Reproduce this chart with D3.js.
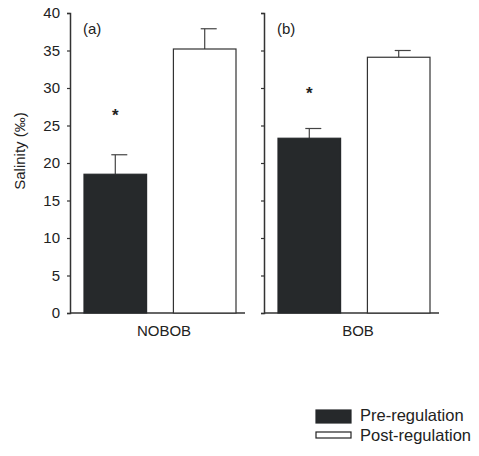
<!DOCTYPE html>
<html>
<head>
<meta charset="utf-8">
<script src="https://cdn.jsdelivr.net/npm/d3@7"></script>
<style>
body { margin: 0; background: #fff; }
text { font-family: "Liberation Sans", Arial, sans-serif; fill: #222; }
</style>
</head>
<body>
<script>
var width = 479,
    height = 456;

var categories = ["NOBOB", "BOB"];
var panelLabels = ["(a)", "(b)"];
var series = ["Pre-regulation", "Post-regulation"];
var means = [[18.5, 35.2], [23.3, 34.1]];
var errors = [[2.6, 2.7], [1.3, 0.9]];
var stars = [26.8, 29.7];   // asterisk positions over pre-regulation bars
var yTicks = [0, 5, 10, 15, 20, 25, 30, 35, 40];

var colors = ["#26292b", "#ffffff"];

var svg = d3.select("body").append("svg")
    .attr("width", width)
    .attr("height", height);

var y = d3.scaleLinear()
    .domain([0, 40])
    .range([313, 13]);

var panelX = d3.scaleOrdinal()
    .domain(categories)
    .range([70, 264]);
var panelW = 175;

var xs = d3.scaleBand()
    .domain(series)
    .range([14, 166])
    .paddingInner(0.3)
    .paddingOuter(0);

categories.forEach(function(cat, p) {
    var g = svg.append("g")
        .attr("transform", "translate(" + panelX(cat) + ",0)");

    // y axis
    var yAxis = d3.axisLeft(y).tickValues(yTicks).tickSize(3).tickPadding(7);
    if (p > 0) yAxis.tickFormat("");
    var ya = g.append("g").call(yAxis);
    ya.select(".domain").attr("stroke", "#333").attr("stroke-width", 1.5);
    ya.selectAll(".tick line").attr("stroke", "#333").attr("stroke-width", 1.2);
    ya.selectAll(".tick text")
        .style("font-size", "15px")
        .style("font-family", "'Liberation Sans', Arial, sans-serif")
        .attr("fill", "#222");

    // x axis line
    g.append("line")
        .attr("x1", 0).attr("x2", panelW)
        .attr("y1", y(0)).attr("y2", y(0))
        .attr("stroke", "#333").attr("stroke-width", 1.5);

    g.append("text")
        .attr("x", 94)
        .attr("y", y(0) + 23)
        .attr("text-anchor", "middle")
        .style("font-size", "15px")
        .text(cat);

    g.append("text")
        .attr("x", 13)
        .attr("y", 34)
        .style("font-size", "15px")
        .text(panelLabels[p]);

    series.forEach(function(s, i) {
        var v = means[p][i], e = errors[p][i];
        var cx = xs(s) + xs.bandwidth() / 2;
        // error bar
        g.append("line")
            .attr("x1", cx).attr("x2", cx)
            .attr("y1", y(v)).attr("y2", y(v + e))
            .attr("stroke", "#444").attr("stroke-width", 1.2);
        g.append("line")
            .attr("x1", cx - 4).attr("x2", cx + 12)
            .attr("y1", y(v + e)).attr("y2", y(v + e))
            .attr("stroke", "#444").attr("stroke-width", 1.2);
        g.append("rect")
            .attr("x", xs(s))
            .attr("y", y(v))
            .attr("width", xs.bandwidth())
            .attr("height", y(0) - y(v))
            .attr("fill", colors[i])
            .attr("stroke", i === 0 ? colors[0] : "#333")
            .attr("stroke-width", 1.2);
    });

    g.append("text")
        .attr("x", xs(series[0]) + xs.bandwidth() / 2)
        .attr("y", y(stars[p]) + 9)
        .attr("text-anchor", "middle")
        .style("font-size", "17px")
        .style("font-weight", "bold")
        .text("*");
});

// y axis title
svg.append("text")
    .attr("transform", "translate(25,151) rotate(-90)")
    .attr("text-anchor", "middle")
    .style("font-size", "15px")
    .style("fill", "#222")
    .text("Salinity (\u2030)");

// legend
var legend = svg.append("g").attr("transform", "translate(316,410)");
series.forEach(function(s, i) {
    legend.append("rect")
        .attr("x", 0)
        .attr("y", i === 0 ? 0 : 22)
        .attr("width", 35)
        .attr("height", i === 0 ? 13 : 6)
        .attr("fill", colors[i])
        .attr("stroke", i === 0 ? colors[0] : "#222")
        .attr("stroke-width", 1.2);
    legend.append("text")
        .attr("x", 44)
        .attr("y", 11 + i * 20)
        .style("font-size", "16.5px")
        .text(s);
});
</script>
</body>
</html>
